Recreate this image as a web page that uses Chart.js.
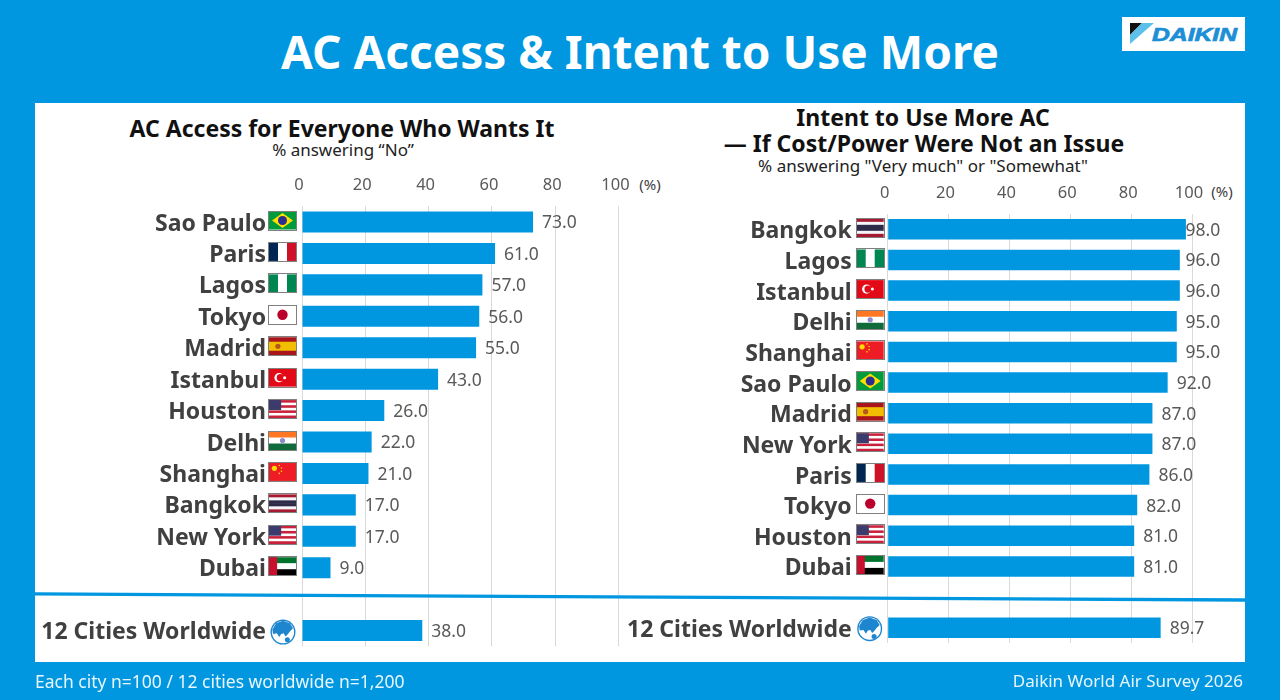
<!DOCTYPE html>
<html lang="en">
  <head>
    <meta charset="UTF-8" />
    <title>AC Access &amp; Intent to Use More</title>
    <style>
      html, body { margin: 0; padding: 0; }
      body { width: 1280px; height: 700px; background: #0097e0; overflow: hidden; position: relative; font-family: "Noto Sans", sans-serif; }
      .t { position: absolute; white-space: nowrap; transform: translate(-50%, -50%); }
      #panel { position: absolute; left: 35px; top: 103px; width: 1210px; height: 559px; background: #fff; }
      canvas { position: absolute; top: 170px; }
      #leftChart { left: 35px; }
      #rightChart { left: 620px; }
      #divider { position: absolute; left: 0; top: 0; }
      #logo { position: absolute; left: 1122px; top: 17px; width: 123px; height: 34px; background: #fff; }
      .head { font-weight: 700; font-size: 23px; color: #111; }
      .sub { font-size: 17px; color: #222; }
      .pct { font-size: 15px; color: #404040; }
      .foot { position: absolute; top: 671px; color: #e8f6fd; line-height: 20px; }
    </style>
  </head>
  <body>
    <div id="panel"></div>
    <div class="t" style="left: 640px; top: 51px; font-size: 46px; font-weight: 700; color: #fff">AC Access &amp; Intent to Use More</div>
    <svg id="logo" viewBox="0 0 123 34">
      <polygon points="8,6 20,6 8,18" fill="#111" />
      <polygon points="20,6 32,6 8,27 8,18" fill="#5cc0ea" />
      <text x="30" y="24" font-family="Liberation Sans" font-weight="700" font-style="italic" font-size="18.5" textLength="85" lengthAdjust="spacingAndGlyphs" stroke="#1c8fd6" stroke-width="0.7" fill="#1c8fd6">DAIKIN</text>
    </svg>

    <div class="t head" style="left: 342px; top: 128px">AC Access for Everyone Who Wants It</div>
    <div class="t sub" style="left: 343px; top: 149px">% answering “No”</div>
    <div class="t head" style="left: 923px; top: 117px">Intent to Use More AC</div>
    <div class="t head" style="left: 924px; top: 143px">— If Cost/Power Were Not an Issue</div>
    <div class="t sub" style="left: 923px; top: 164.5px">% answering "Very much" or "Somewhat"</div>
    <div class="t pct" style="left: 650px; top: 184px">(%)</div>
    <div class="t pct" style="left: 1222px; top: 191px">(%)</div>

    <canvas id="leftChart" width="620" height="490"></canvas>
    <canvas id="rightChart" width="625" height="490"></canvas>

    <svg id="divider" width="1280" height="700"><polygon points="35,592.3 1245,598.3 1245,601.8 35,595.5" fill="#0097e0" /></svg>

    <div class="foot" style="left: 35px; font-size: 17.5px">Each city n=100 / 12 cities worldwide n=1,200</div>
    <div class="foot" style="right: 37px; font-size: 17px">Daikin World Air Survey 2026</div>

    <script src="https://cdn.jsdelivr.net/npm/chart.js"></script>
    <script>
      const leftCities = ["Sao Paulo", "Paris", "Lagos", "Tokyo", "Madrid", "Istanbul", "Houston", "Delhi", "Shanghai", "Bangkok", "New York", "Dubai", "", "12 Cities Worldwide"];
      const leftValues = [73, 61, 57, 56, 55, 43, 26, 22, 21, 17, 17, 9, null, 38];
      const rightCities = ["Bangkok", "Lagos", "Istanbul", "Delhi", "Shanghai", "Sao Paulo", "Madrid", "New York", "Paris", "Tokyo", "Houston", "Dubai", "", "12 Cities Worldwide"];
      const rightValues = [98, 96, 96, 95, 95, 92, 87, 87, 86, 82, 81, 81, null, 89.7];

      const BLUE = "#0097e0";
      const NUM_FONT = '17.5px "Noto Sans"';

      // flags, each drawn into a w x h box at x,y
      function stripesH(ctx, x, y, w, h, cols) {
        cols.forEach((c, i) => {
          ctx.fillStyle = c;
          ctx.fillRect(x, y + (h * i) / cols.length, w, h / cols.length + 0.5);
        });
      }
      function stripesV(ctx, x, y, w, h, cols) {
        cols.forEach((c, i) => {
          ctx.fillStyle = c;
          ctx.fillRect(x + (w * i) / cols.length, y, w / cols.length + 0.5, h);
        });
      }
      function disc(ctx, cx, cy, r, col) {
        ctx.fillStyle = col;
        ctx.beginPath();
        ctx.arc(cx, cy, r, 0, Math.PI * 2);
        ctx.fill();
      }
      const flags = {
        brazil(ctx, x, y, w, h) {
          ctx.fillStyle = "#009b3a";
          ctx.fillRect(x, y, w, h);
          ctx.fillStyle = "#fedf00";
          ctx.beginPath();
          ctx.moveTo(x + w / 2, y + 1.5);
          ctx.lineTo(x + w - 3, y + h / 2);
          ctx.lineTo(x + w / 2, y + h - 1.5);
          ctx.lineTo(x + 3, y + h / 2);
          ctx.fill();
          disc(ctx, x + w / 2, y + h / 2, 4.5, "#2a2f8f");
        },
        france(ctx, x, y, w, h) { stripesV(ctx, x, y, w, h, ["#002654", "#fff", "#ce1126"]); },
        nigeria(ctx, x, y, w, h) { stripesV(ctx, x, y, w, h, ["#008751", "#fff", "#008751"]); },
        japan(ctx, x, y, w, h) {
          ctx.fillStyle = "#fff";
          ctx.fillRect(x, y, w, h);
          disc(ctx, x + w / 2, y + h / 2, 5.2, "#bc002d");
        },
        spain(ctx, x, y, w, h) {
          ctx.fillStyle = "#aa151b";
          ctx.fillRect(x, y, w, h);
          ctx.fillStyle = "#f1bf00";
          ctx.fillRect(x, y + h / 4, w, h / 2);
          disc(ctx, x + w * 0.33, y + h / 2, 2.6, "#b5561f");
        },
        turkey(ctx, x, y, w, h) {
          ctx.fillStyle = "#e30a17";
          ctx.fillRect(x, y, w, h);
          disc(ctx, x + w * 0.37, y + h / 2, 4.6, "#fff");
          disc(ctx, x + w * 0.42, y + h / 2, 3.6, "#e30a17");
          disc(ctx, x + w * 0.58, y + h / 2, 1.5, "#fff");
        },
        usa(ctx, x, y, w, h) {
          for (let i = 0; i < 7; i++) {
            ctx.fillStyle = i % 2 ? "#fff" : "#c8223c";
            ctx.fillRect(x, y + (h * i) / 7, w, h / 7 + 0.5);
          }
          ctx.fillStyle = "#3c3b6e";
          ctx.fillRect(x, y, w * 0.45, h * 0.55);
        },
        india(ctx, x, y, w, h) {
          stripesH(ctx, x, y, w, h, ["#ff7722", "#fff", "#0f6b3a"]);
          disc(ctx, x + w / 2, y + h / 2, 2.6, "#8a8ad0");
        },
        china(ctx, x, y, w, h) {
          ctx.fillStyle = "#ee1c25";
          ctx.fillRect(x, y, w, h);
          disc(ctx, x + w * 0.2, y + h * 0.3, 2.6, "#ffde00");
          [[0.38, 0.14], [0.46, 0.28], [0.46, 0.46], [0.38, 0.58]].forEach((p) => disc(ctx, x + w * p[0], y + h * p[1], 0.8, "#ffde00"));
        },
        thailand(ctx, x, y, w, h) {
          stripesH(ctx, x, y, w, h, ["#a51931", "#f4f5f8", "#2d2a4a", "#2d2a4a", "#f4f5f8", "#a51931"]);
        },
        uae(ctx, x, y, w, h) {
          stripesH(ctx, x, y, w, h, ["#00732f", "#fff", "#000"]);
          ctx.fillStyle = "#c8102e";
          ctx.fillRect(x, y, w * 0.3, h);
        },
      };
      const cityFlag = {
        "Sao Paulo": flags.brazil, Paris: flags.france, Lagos: flags.nigeria, Tokyo: flags.japan,
        Madrid: flags.spain, Istanbul: flags.turkey, Houston: flags.usa, "New York": flags.usa,
        Delhi: flags.india, Shanghai: flags.china, Bangkok: flags.thailand, Dubai: flags.uae,
      };

      function drawGlobe(ctx, cx, cy, r) {
        disc(ctx, cx, cy, r, "#1d86cf");
        disc(ctx, cx, cy, r - 1.4, "#fff");
        ctx.fillStyle = "#1d86cf";
        ctx.beginPath();
        [[-0.85, -0.2], [-0.55, -0.7], [0, -0.9], [0.55, -0.7], [0.8, -0.3], [0.55, -0.05], [0.4, 0.15], [0.2, 0.35], [0.05, 0.1], [-0.15, 0.15], [-0.3, 0.4], [-0.5, 0.1], [-0.8, 0.15]].forEach((p, i) => {
          const px = cx + p[0] * r, py = cy + p[1] * r;
          i ? ctx.lineTo(px, py) : ctx.moveTo(px, py);
        });
        ctx.fill();
        disc(ctx, cx + 0.35 * r, cy + 0.62 * r, 0.2 * r, "#1d86cf");
      }

      // flags next to the city names + value labels at the bar ends
      const decorations = {
        id: "decorations",
        afterDatasetsDraw(chart, args, opts) {
          const ctx = chart.ctx;
          const meta = chart.getDatasetMeta(0);
          const yScale = chart.scales.y;
          chart.data.labels.forEach((name, i) => {
            if (!name) return;
            const cy = yScale.getPixelForValue(i);
            const fx = chart.chartArea.left - opts.flagGap;
            const fw = 27, fh = 18, fy = cy - 1.5 - fh / 2;
            const draw = cityFlag[name];
            if (draw) {
              draw(ctx, fx, fy, fw, fh);
              ctx.strokeStyle = "#808080";
              ctx.lineWidth = 1;
              ctx.strokeRect(Math.round(fx) - 0.5, Math.round(fy) - 0.5, fw + 1, fh + 1);
            } else {
              drawGlobe(ctx, fx + opts.globeDx, cy + opts.globeDy, 12.5);
            }
            const bar = meta.data[i];
            let lx = bar.x + 9;
            if (opts.maxX) lx = Math.min(lx, opts.maxX);
            ctx.fillStyle = "#595959";
            ctx.font = NUM_FONT;
            ctx.textAlign = "left";
            ctx.textBaseline = "middle";
            ctx.fillText(chart.data.datasets[0].data[i].toFixed(1), lx, bar.y + 1.5);
          });
        },
      };

      function makeChart(id, cities, values, o) {
        new Chart(document.getElementById(id).getContext("2d"), {
          type: "bar",
          data: {
            labels: cities,
            datasets: [{ data: values, backgroundColor: BLUE, barPercentage: 1, categoryPercentage: 0.67 }],
          },
          options: {
            indexAxis: "y",
            responsive: false,
            animation: false,
            devicePixelRatio: 1,
            layout: { padding: { left: 0, top: 0, right: o.rightPad, bottom: o.bottomPad } },
            scales: {
              x: {
                position: "top",
                min: 0,
                max: 100,
                border: { display: false },
                grid: { color: "#d9d9d9", drawTicks: false },
                ticks: { stepSize: 20, color: "#595959", font: { family: "Noto Sans", size: 16.5 }, padding: 11, labelOffset: -3, maxRotation: 0 },
                afterFit(s) { s.height = o.axisH; },
              },
              y: {
                border: { display: false },
                grid: { display: false, drawTicks: false },
                ticks: { color: "#404040", autoSkip: false, font: { family: "Noto Sans", size: 23, weight: "700" }, padding: 36, labelOffset: o.labelDy },
                afterFit(s) {
                  s.width = o.labelW;
                  s.paddingTop = 0;
                  s.paddingBottom = 0;
                },
              },
            },
            plugins: {
              legend: { display: false },
              tooltip: { enabled: false },
              title: { display: false },
              decorations: { flagGap: o.flagGap, maxX: o.maxX, globeDx: o.globeDx, globeDy: o.globeDy },
            },
          },
          plugins: [decorations],
        });
      }

      makeChart("leftChart", leftCities, leftValues, { axisH: 36.3, labelW: 267, rightPad: 36.5, bottomPad: 13.7, flagGap: 33, globeDx: 14, globeDy: 1.5, labelDy: 2 });
      makeChart("rightChart", rightCities, rightValues, { axisH: 44, labelW: 267.7, rightPad: 53, bottomPad: 17, flagGap: 31, maxX: 565.5, globeDx: 13, globeDy: 1, labelDy: 2.5 });
    </script>
  </body>
</html>
